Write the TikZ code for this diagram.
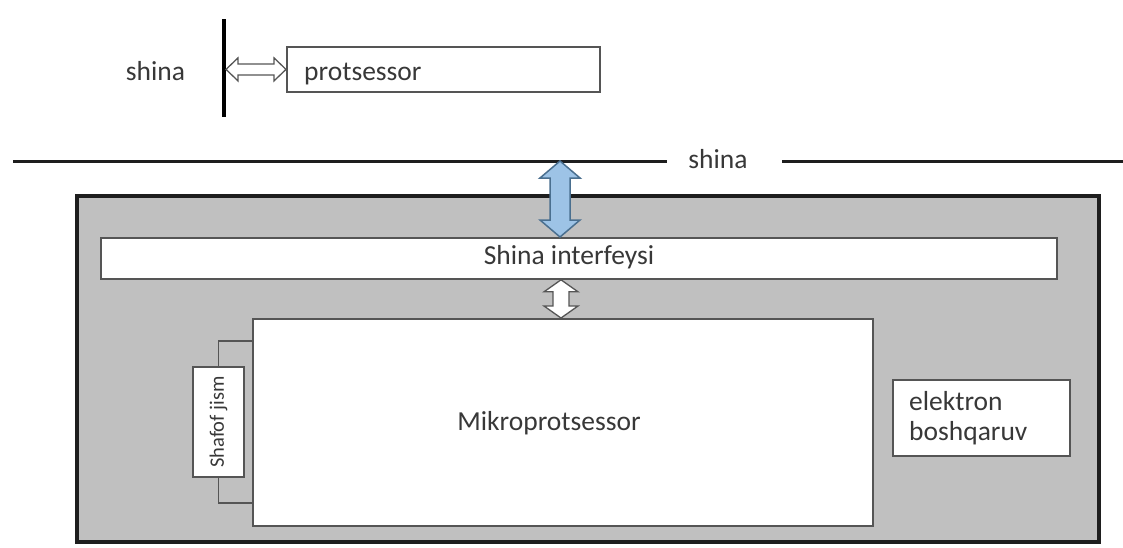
\documentclass[tikz,border=0pt]{standalone}
\usepackage{fontspec}
\setmainfont{Carlito}
\usetikzlibrary{calc}

\definecolor{inktext}{HTML}{383838}
\definecolor{inkline}{HTML}{555555}
\definecolor{inkdark}{HTML}{1E1E1E}
\definecolor{panelgray}{HTML}{C0C0C0}
\definecolor{busblue}{HTML}{9DC3E6}
\definecolor{busblueedge}{HTML}{4A6F8F}

% vertical double block arrow: style, top point, bottom point, shaft half, head half, head length
\newcommand\blockV[6]{%
  \draw[#1] let \p1=(#2), \p2=(#3) in
    (\x1,\y1) -- (\x1+#5pt,\y1-#6pt) -- (\x1+#4pt,\y1-#6pt) -- (\x1+#4pt,\y2+#6pt)
    -- (\x1+#5pt,\y2+#6pt) -- (\x1,\y2) -- (\x1-#5pt,\y2+#6pt) -- (\x1-#4pt,\y2+#6pt)
    -- (\x1-#4pt,\y1-#6pt) -- (\x1-#5pt,\y1-#6pt) -- cycle;}
% horizontal double block arrow: style, left point, right point, shaft half, head half, head length
\newcommand\blockH[6]{%
  \draw[#1] let \p1=(#2), \p2=(#3) in
    (\x1,\y1) -- (\x1+#6pt,\y1+#5pt) -- (\x1+#6pt,\y1+#4pt) -- (\x2-#6pt,\y1+#4pt)
    -- (\x2-#6pt,\y1+#5pt) -- (\x2,\y1) -- (\x2-#6pt,\y1-#5pt) -- (\x2-#6pt,\y1-#4pt)
    -- (\x1+#6pt,\y1-#4pt) -- (\x1+#6pt,\y1-#5pt) -- cycle;}

\tikzset{
  label text/.style={font=\fontsize{27.5}{30}\selectfont, text=inktext, inner sep=0pt},
  small text/.style={font=\fontsize{20.5}{23}\selectfont, text=inktext, inner sep=0pt},
  whitebox/.style={draw=inkline, line width=1.8pt, fill=white, inner sep=0pt},
  panel/.style={draw=inkdark, line width=3.5pt, fill=panelgray, inner sep=0pt},
  busline/.style={draw=inkdark, line width=3pt},
  hollowarrow/.style={draw=inkline, line width=1.3pt, fill=white, line join=miter},
  bluearrow/.style={draw=busblueedge, line width=1.5pt, fill=busblue, line join=miter},
  bracket/.style={draw=inkline, line width=1.8pt},
}

\begin{document}
\begin{tikzpicture}[x=1pt,y=-1pt]
\useasboundingbox (0,0) rectangle (1123,547);
\fill[white] (0,0) rectangle (1123,547);

% ---- upper part: processor on its own bus ----
\coordinate (bartop) at (224,19);
\coordinate (barbot) at (224,117);
\draw[line width=4pt, black] (bartop) -- (barbot);
\node[label text, anchor=base] (shinaA) at (155.5,80) {shina};

\node[whitebox, anchor=north west, minimum width=313pt, minimum height=45pt] (proc) at (286,46) {};
\node[label text, anchor=base west] (procT) at (304,80) {protsessor};

\coordinate (barjoin) at ($(bartop |- proc.west)+(2,0)$);
\blockH{hollowarrow}{barjoin}{proc.west}{5.5}{11.5}{12}

% ---- system bus ----
\coordinate (busL) at (13,161);
\coordinate (gapL) at (667,161);
\coordinate (gapR) at (782,161);
\coordinate (busR) at (1123,161);
\draw[busline] (busL) -- (gapL);
\draw[busline] (gapR) -- (busR);
\node[label text, anchor=base] (shinaB) at (718,168) {shina};

% ---- controller card ----
\node[panel, anchor=north west, minimum width=1022pt, minimum height=346pt] (card) at (75,194) {};

\node[whitebox, anchor=north west, minimum width=956pt, minimum height=41pt] (iface) at (100,237) {};
\node[label text, anchor=base] (ifaceT) at (569,264) {Shina interfeysi};

\node[whitebox, anchor=north west, minimum width=620pt, minimum height=207pt] (mikro) at (252,318) {};
\node[label text, anchor=base] (mikroT) at (549,430) {Mikroprotsessor};

\node[whitebox, rotate=90, minimum width=110pt, minimum height=51pt] (shafof) at (218.5,422) {};
\node[small text, rotate=90] (shafofT) at (shafof.center) {Shafof jism};
\coordinate (brtop) at (252,341);
\coordinate (brbot) at (252,503);
\draw[bracket] (shafof.east) |- (brtop);
\draw[bracket] (shafof.west) |- (brbot);

\node[whitebox, anchor=north west, minimum width=177pt, minimum height=76pt] (elec) at (892,379) {};
\node[label text, anchor=west, align=left] (elecT) at ($(elec.west)+(17,0)$) {elektron\\boshqaruv};

% ---- bus connections ----
\coordinate (tap) at (560,161);
\blockV{bluearrow}{tap}{tap |- iface.north}{10}{20}{17}

\coordinate (link) at (561,0);
\blockV{hollowarrow}{link |- iface.south}{link |- mikro.north}{8}{17}{12}

\end{tikzpicture}
\end{document}
